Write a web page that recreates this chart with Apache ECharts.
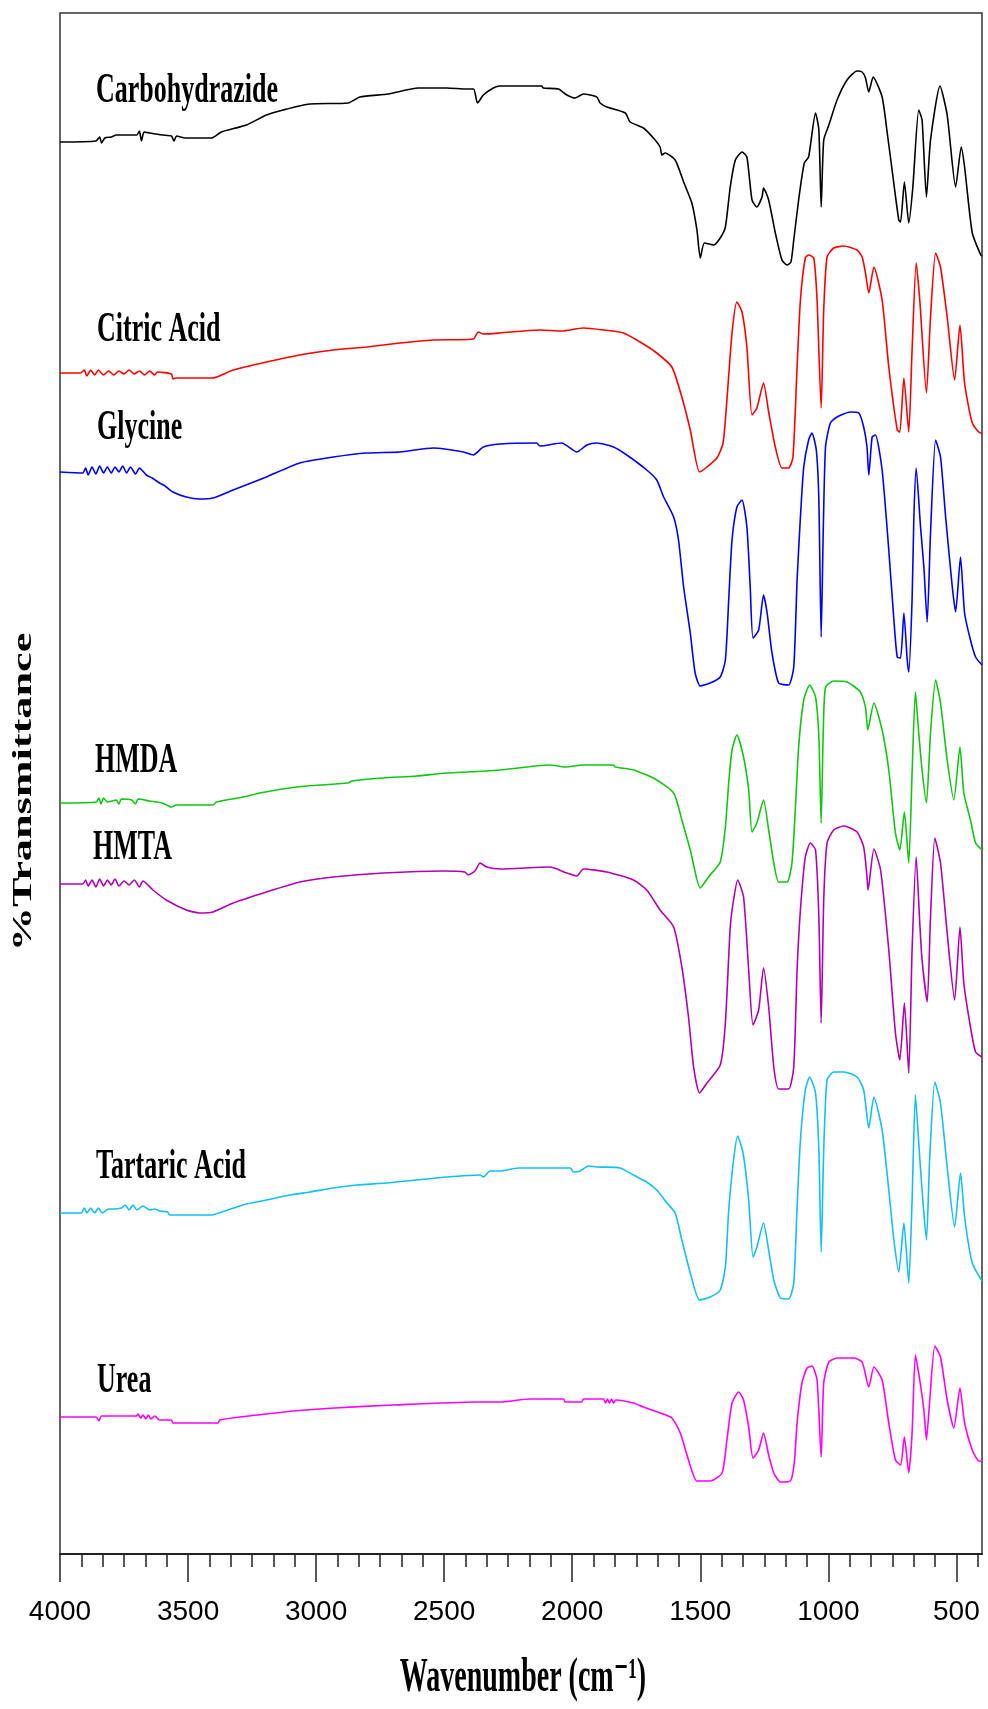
<!DOCTYPE html>
<html>
<head>
<meta charset="utf-8">
<script src="https://cdn.jsdelivr.net/npm/echarts@6/dist/echarts.min.js"></script>
<style>
html,body{margin:0;padding:0;background:#fff;}
#chart{width:988px;height:1709px;}
</style>
</head>
<body>
<div id="chart"></div>
<script>
// ---- Data (wavenumber cm^-1, offset %T in arbitrary units) ----
const seriesNames = ['Carbohydrazide', 'Citric Acid', 'Glycine', 'HMDA', 'HMTA', 'Tartaric Acid', 'Urea'];
const seriesColors = ['#000000', '#ff0000', '#0000ff', '#11c811', '#b400b4', '#10c0f8', '#ff00ff'];
const majorTicks = [4000, 3500, 3000, 2500, 2000, 1500, 1000, 500];

const carbohydrazide = [[4000,141.2],[3860,141.3],[3845,141.7],[3838,141.1],[3825,141.6],[3800,141.7],[3780,141.9],[3740,141.9],[3700,141.9],[3690,142.3],[3682,141.3],[3672,142.2],[3650,142.1],[3600,141.9],[3565,141.8],[3555,141.3],[3545,141.8],[3510,141.6],[3409,141.6],[3370,142.2],[3272,142.9],[3194,143.9],[3129,144.4],[3025,145.0],[2875,145.1],[2829,145.7],[2718,146.0],[2601,146.6],[2490,146.6],[2412,146.5],[2385,146.5],[2370,145.1],[2347,145.9],[2308,146.6],[2282,146.8],[2119,146.8],[2113,146.6],[2054,146.5],[2021,145.9],[1989,145.6],[1956,146.0],[1904,145.7],[1891,145.1],[1865,144.7],[1793,144.1],[1774,143.2],[1722,142.6],[1683,141.6],[1657,140.7],[1650,139.9],[1637,140.1],[1598,139.4],[1565,137.2],[1533,135.1],[1513,132.4],[1500,129.6],[1484,131.1],[1448,130.9],[1422,131.6],[1402,132.7],[1383,136.7],[1363,139.4],[1337,140.2],[1318,139.7],[1298,135.4],[1279,134.7],[1259,135.7],[1253,136.6],[1233,135.4],[1207,132.1],[1181,129.4],[1161,128.9],[1146,129.2],[1135,131.4],[1116,135.4],[1094,139.1],[1077,139.7],[1050,144.1],[1037,142.4],[1028,134.7],[1018,141.4],[998,142.9],[966,145.4],[927,147.4],[888,148.3],[868,148.2],[855,147.6],[842,146.2],[825,147.7],[790,145.7],[770,142.1],[751,138.4],[725,133.4],[718,133.2],[703,137.2],[686,133.1],[670,136.7],[647,144.4],[634,143.4],[617,135.7],[601,141.4],[564,146.8],[536,143.9],[503,136.7],[481,140.7],[468,138.7],[438,132.1],[405,129.9],[400,129.8]];

const citricAcid = [[4000,118.1],[3920,118.1],[3905,118.4],[3895,117.8],[3880,118.4],[3865,117.9],[3850,118.4],[3830,117.9],[3810,118.3],[3790,117.9],[3770,118.3],[3750,118.0],[3730,118.4],[3710,118.0],[3690,118.3],[3670,117.9],[3650,118.3],[3630,117.9],[3620,118.2],[3565,118.0],[3559,117.5],[3545,117.6],[3403,117.6],[3324,118.4],[3194,119.2],[3064,119.9],[2933,120.4],[2803,120.7],[2673,121.1],[2542,121.4],[2386,121.5],[2367,122.2],[2347,122.0],[2282,122.1],[2126,122.4],[2041,122.3],[1956,122.6],[1878,122.4],[1800,122.1],[1735,121.2],[1670,120.1],[1611,118.7],[1572,115.7],[1539,112.4],[1503,108.2],[1474,108.7],[1435,109.6],[1411,111.1],[1396,115.4],[1376,122.1],[1357,125.2],[1337,124.2],[1318,120.7],[1298,113.9],[1279,114.6],[1253,117.1],[1233,114.2],[1207,110.7],[1181,108.6],[1155,108.6],[1138,109.7],[1122,118.7],[1109,125.4],[1090,129.6],[1077,129.9],[1057,129.6],[1044,125.4],[1028,114.6],[1018,124.4],[1005,129.7],[979,130.6],[940,130.8],[888,130.4],[868,129.7],[855,128.1],[842,126.1],[822,128.7],[790,125.4],[764,118.7],[731,112.4],[721,112.2],[705,117.6],[686,112.2],[673,120.4],[657,129.1],[643,125.4],[617,116.1],[601,123.7],[581,130.1],[562,128.7],[536,123.7],[507,117.4],[486,122.9],[468,117.1],[438,113.1],[405,112.1],[400,112.1]];

const glycine = [[4000,108.2],[3911,108.1],[3900,108.6],[3890,107.9],[3875,108.7],[3860,108.0],[3845,108.8],[3830,108.1],[3815,108.7],[3800,108.1],[3785,108.7],[3770,108.2],[3755,108.8],[3740,108.1],[3725,108.7],[3705,108.0],[3690,108.6],[3663,107.9],[3640,107.6],[3611,107.1],[3590,106.8],[3559,106.2],[3507,105.7],[3455,105.5],[3403,105.6],[3324,106.4],[3194,107.7],[3064,109.1],[2933,109.7],[2803,110.1],[2673,110.2],[2542,110.6],[2425,110.2],[2386,109.9],[2347,110.7],[2282,111.0],[2139,111.1],[2126,110.8],[2041,111.1],[1982,110.2],[1943,110.9],[1904,111.1],[1839,110.7],[1787,109.9],[1709,108.4],[1670,107.4],[1643,105.7],[1604,103.7],[1585,101.4],[1565,96.7],[1539,92.1],[1520,88.1],[1500,86.8],[1461,87.1],[1422,87.7],[1402,89.4],[1389,95.4],[1376,101.4],[1357,104.7],[1337,105.4],[1318,102.7],[1305,96.7],[1294,91.6],[1272,92.4],[1253,95.9],[1239,94.1],[1220,90.1],[1194,87.1],[1155,86.9],[1135,88.7],[1122,97.4],[1109,103.7],[1096,108.7],[1077,111.4],[1064,112.1],[1047,110.4],[1037,105.4],[1028,91.7],[1020,102.1],[1011,110.7],[992,113.1],[966,113.7],[914,114.2],[881,114.1],[862,112.7],[849,110.7],[842,107.9],[829,111.7],[816,111.9],[790,108.4],[764,100.4],[744,93.4],[731,89.7],[718,89.6],[705,94.1],[692,89.4],[686,88.2],[673,95.4],[666,103.7],[657,108.6],[640,102.7],[627,98.7],[614,93.2],[601,102.1],[581,111.4],[562,109.7],[542,103.7],[516,96.7],[503,94.2],[484,99.7],[468,94.1],[445,91.4],[425,89.7],[400,88.9]];

const hmda = [[4000,75.1],[3858,75.2],[3848,75.6],[3840,75.0],[3830,75.6],[3815,75.2],[3780,75.4],[3770,75.0],[3760,75.5],[3720,75.4],[3705,75.0],[3695,75.5],[3650,75.3],[3600,75.1],[3565,74.7],[3546,74.9],[3403,74.9],[3389,75.2],[3285,75.7],[3220,76.1],[3077,76.7],[2986,76.9],[2875,77.1],[2860,77.3],[2738,77.6],[2608,77.8],[2490,78.1],[2334,78.3],[2282,78.4],[2087,78.9],[2028,78.7],[1956,78.9],[1839,78.9],[1832,78.7],[1761,78.4],[1683,77.6],[1604,76.1],[1572,73.4],[1539,70.4],[1500,66.6],[1468,67.7],[1422,69.2],[1402,72.7],[1389,77.1],[1376,80.4],[1357,81.9],[1331,79.7],[1311,76.4],[1298,72.2],[1279,73.1],[1253,75.4],[1233,72.4],[1213,69.1],[1194,67.2],[1161,67.2],[1142,69.1],[1129,74.4],[1116,80.7],[1096,85.4],[1073,86.9],[1050,85.7],[1037,81.7],[1028,73.1],[1020,82.1],[1011,86.7],[979,87.3],[927,87.2],[875,86.2],[855,84.7],[846,82.4],[822,85.1],[790,82.4],[764,78.4],[738,72.1],[721,70.4],[703,74.2],[686,69.1],[673,78.1],[660,86.2],[647,82.1],[634,78.4],[617,75.1],[601,82.1],[581,87.4],[562,85.1],[536,79.4],[510,75.4],[486,80.7],[471,76.1],[445,73.4],[425,71.1],[400,70.4]];

const hmta = [[4000,67.0],[3911,67.0],[3900,67.4],[3890,66.8],[3875,67.4],[3860,66.7],[3845,67.5],[3830,66.8],[3815,67.4],[3800,66.9],[3785,67.5],[3770,66.8],[3750,67.3],[3730,66.9],[3710,67.4],[3690,66.7],[3676,67.3],[3637,66.4],[3585,65.4],[3507,64.4],[3455,64.1],[3403,64.2],[3324,65.1],[3194,66.2],[3064,67.2],[2933,67.7],[2738,68.1],[2503,68.3],[2420,68.2],[2406,67.9],[2380,68.3],[2360,69.1],[2334,68.7],[2282,68.5],[2087,68.7],[2021,68.1],[1982,67.8],[1956,68.5],[1865,68.2],[1761,67.4],[1709,66.4],[1657,64.4],[1604,62.7],[1572,58.7],[1546,53.7],[1526,48.7],[1503,46.1],[1474,47.1],[1422,48.9],[1402,53.1],[1383,62.7],[1370,65.4],[1354,67.4],[1331,65.7],[1311,58.4],[1294,52.9],[1272,54.4],[1253,58.6],[1233,54.7],[1213,48.7],[1194,46.5],[1155,46.5],[1135,48.7],[1122,58.4],[1109,64.4],[1090,69.7],[1070,71.1],[1050,70.4],[1037,63.7],[1028,53.1],[1018,65.4],[1005,71.1],[979,72.4],[940,72.8],[888,72.2],[862,70.7],[849,67.7],[845,66.4],[822,70.5],[796,68.4],[764,60.4],[738,52.1],[721,49.4],[703,55.1],[686,48.1],[673,60.4],[657,69.7],[643,63.1],[634,59.4],[614,55.2],[601,63.7],[584,71.6],[562,69.1],[536,62.1],[507,55.4],[486,62.7],[471,57.1],[445,52.7],[425,50.2],[400,49.7]];

const tartaricAcid = [[4000,34.1],[3917,34.1],[3905,34.6],[3895,34.1],[3880,34.6],[3865,34.1],[3850,34.6],[3835,34.1],[3810,34.5],[3793,34.5],[3760,34.6],[3745,34.9],[3730,34.4],[3715,34.9],[3700,34.4],[3676,34.8],[3650,34.4],[3630,34.5],[3611,34.3],[3580,34.2],[3572,33.9],[3546,33.9],[3409,33.9],[3357,34.3],[3272,35.0],[3194,35.4],[3103,35.9],[3025,36.2],[2933,36.6],[2842,36.9],[2725,37.1],[2608,37.4],[2490,37.7],[2360,37.9],[2347,37.7],[2321,38.3],[2282,38.3],[2210,38.6],[2008,38.6],[1995,38.2],[1969,38.3],[1937,38.8],[1904,38.7],[1813,38.6],[1761,37.9],[1709,37.2],[1670,36.4],[1630,35.1],[1598,34.1],[1572,31.4],[1539,28.1],[1503,25.4],[1461,25.7],[1422,26.4],[1402,28.7],[1389,34.4],[1370,39.4],[1354,41.8],[1333,40.1],[1311,35.4],[1294,29.7],[1279,30.7],[1253,33.1],[1233,30.4],[1213,27.4],[1187,25.6],[1155,25.5],[1135,27.1],[1122,34.7],[1109,41.4],[1090,46.4],[1073,47.7],[1050,46.1],[1037,40.4],[1028,30.2],[1018,40.4],[1005,47.4],[979,48.2],[940,48.2],[888,47.7],[862,46.4],[842,42.6],[822,45.7],[790,42.4],[764,36.4],[744,31.4],[725,28.2],[705,33.1],[686,27.1],[673,35.4],[660,45.9],[647,41.1],[634,36.4],[617,31.4],[604,39.7],[584,47.2],[562,45.1],[536,38.7],[507,32.7],[484,38.1],[468,33.7],[438,29.1],[400,27.3]];

const urea = [[4000,13.7],[3859,13.7],[3848,13.3],[3838,13.8],[3702,13.8],[3696,14.0],[3685,13.6],[3676,13.9],[3665,13.5],[3655,13.9],[3645,13.5],[3630,13.8],[3611,13.4],[3565,13.4],[3559,13.1],[3546,13.1],[3383,13.1],[3376,13.4],[3298,13.7],[3194,14.0],[3090,14.3],[2927,14.6],[2699,14.9],[2373,15.2],[2282,15.2],[2165,15.5],[2034,15.5],[2028,15.2],[1963,15.2],[1956,15.5],[1878,15.5],[1870,15.1],[1862,15.5],[1855,15.1],[1847,15.5],[1838,15.1],[1830,15.4],[1761,15.1],[1722,14.7],[1657,14.1],[1611,13.6],[1578,12.1],[1546,9.4],[1513,7.3],[1461,7.3],[1415,8.1],[1396,11.4],[1376,15.1],[1350,16.2],[1331,15.4],[1311,12.7],[1294,9.6],[1272,10.4],[1253,12.1],[1233,9.9],[1213,8.1],[1187,7.2],[1148,7.3],[1133,9.1],[1122,13.1],[1103,17.1],[1083,18.6],[1064,18.8],[1044,17.4],[1028,9.7],[1018,17.1],[998,19.2],[966,19.6],[901,19.6],[868,19.2],[842,16.7],[822,18.7],[790,17.4],[764,13.1],[738,9.4],[718,8.9],[703,11.7],[686,8.1],[673,12.1],[660,19.9],[643,17.4],[627,14.4],[617,11.4],[604,15.4],[584,20.8],[562,19.7],[536,15.4],[510,12.6],[486,16.6],[468,13.1],[438,10.4],[412,9.3],[400,9.3]];

const seriesData = [carbohydrazide, citricAcid, glycine, hmda, hmta, tartaricAcid, urea];

// label anchors (pixels) — layout only
const labelPos = [[96,91],[97,330],[97,428],[95,761],[93,848],[96,1167],[97,1381]];

// minor ticks: each 500 interval divided in 6
const minorTicks = [];
for (let i = 0; i < majorTicks.length; i++) {
  const a = majorTicks[i];
  for (let k = 1; k < 6; k++) {
    const v = a - k * 500 / 6;
    if (v >= 400) minorTicks.push(v);
  }
}

const chart = echarts.init(document.getElementById('chart'), null, {renderer: 'canvas'});
const serif = "'Liberation Serif','Times New Roman','DejaVu Serif',serif";

const graphics = seriesNames.map((n, i) => ({
  type: 'text',
  x: labelPos[i][0], y: labelPos[i][1],
  scaleX: 1, scaleY: 1.62,
  style: {
    text: n, fill: '#000', fontSize: 26, fontWeight: 'bold', fontFamily: serif,
    align: 'left', verticalAlign: 'middle', textAlign: 'left', textVerticalAlign: 'middle'
  },
  z: 100
}));
graphics.push({
  type: 'text', x: 24, y: 792, rotation: Math.PI / 2, scaleX: 1.58, scaleY: 1,
  style: { text: '%Transmittance', fill: '#000', fontSize: 28, fontWeight: 'bold', fontFamily: serif,
    align: 'center', verticalAlign: 'middle', textAlign: 'center', textVerticalAlign: 'middle' },
  z: 100
});
graphics.push({
  type: 'text', x: 523, y: 1679, scaleX: 1, scaleY: 1.7,
  style: { text: 'Wavenumber (cm\u207B\u00B9)', fill: '#000', fontSize: 28, fontWeight: 'bold', fontFamily: serif,
    align: 'center', verticalAlign: 'middle', textAlign: 'center', textVerticalAlign: 'middle' },
  z: 100
});

const option = {
  animation: false,
  backgroundColor: '#ffffff',
  grid: { left: 60, right: 6, top: 13, bottom: 155, show: true, borderColor: '#333', borderWidth: 1.5, containLabel: false },
  xAxis: [
    {
      type: 'value', inverse: true, min: 400, max: 4000, position: 'bottom',
      axisLine: { show: true, onZero: false, lineStyle: { color: '#222', width: 2 } },
      axisTick: { show: true, customValues: majorTicks, length: 28, lineStyle: { color: '#222', width: 1.5 } },
      axisLabel: { show: true, customValues: majorTicks, margin: 44, color: '#000', fontSize: 28,
        formatter: (v) => String(v),
        fontFamily: "'Liberation Sans Narrow','Arial Narrow','Liberation Sans',Arial,sans-serif" },
      splitLine: { show: false }
    },
    {
      type: 'value', inverse: true, min: 400, max: 4000, position: 'bottom',
      axisLine: { show: false, onZero: false },
      axisTick: { show: true, customValues: minorTicks, length: 13, lineStyle: { color: '#222', width: 1.5 } },
      axisLabel: { show: false },
      splitLine: { show: false }
    }
  ],
  yAxis: {
    type: 'value', min: 0, max: 154.1,
    axisLine: { show: false }, axisTick: { show: false }, axisLabel: { show: false }, splitLine: { show: false }
  },
  series: seriesNames.map((n, i) => ({
    name: n, type: 'line', xAxisIndex: 0, data: seriesData[i], symbol: 'none', smooth: 0.2,
    lineStyle: { color: seriesColors[i], width: 1.6 }, itemStyle: { color: seriesColors[i] }
  })),
  graphic: graphics
};
chart.setOption(option);
</script>
</body>
</html>
